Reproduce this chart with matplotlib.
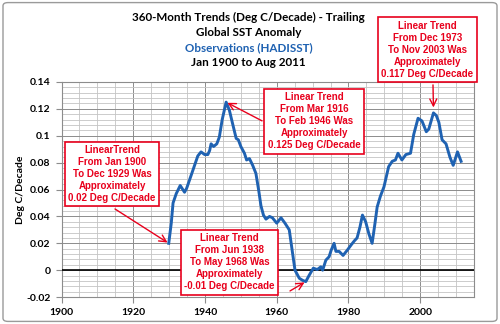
import matplotlib
matplotlib.use("Agg")
import matplotlib.pyplot as plt
from matplotlib.patches import FancyBboxPatch
from matplotlib.ticker import MultipleLocator

# trailing 360-month trend (year, deg C/decade)
years = [1929.9, 1930.6, 1931.1, 1932.0, 1933.1, 1934.3, 1934.9, 1936.2, 1937.1, 1938.0,
         1938.9, 1939.9, 1940.8, 1941.3, 1941.7, 1942.4, 1943.3, 1944.0, 1944.8, 1945.9,
         1946.8, 1947.7, 1948.7, 1949.3, 1950.0, 1951.0, 1951.6, 1952.4, 1953.3, 1954.2,
         1955.0, 1955.6, 1956.3, 1957.0, 1958.0, 1958.8, 1960.0, 1961.2, 1962.3, 1963.5,
         1964.4, 1965.1, 1966.3, 1967.2, 1968.1, 1969.0, 1970.2, 1971.3, 1972.3, 1972.8,
         1973.7, 1974.6, 1975.2, 1976.0, 1976.5, 1977.4, 1978.5, 1979.7, 1980.8, 1981.7,
         1982.4, 1983.2, 1983.9, 1984.8, 1985.7, 1986.6, 1987.4, 1988.0, 1988.9, 1989.9,
         1991.2, 1992.2, 1993.1, 1993.8, 1994.9, 1996.0, 1997.3, 1998.2, 1999.4, 2000.5,
         2001.7, 2002.4, 2003.7, 2004.5, 2005.2, 2006.1, 2007.2, 2008.3, 2009.2, 2010.4,
         2011.4]
trend = [0.020, 0.035, 0.050, 0.057, 0.063, 0.058, 0.061, 0.071, 0.078, 0.085,
         0.088, 0.086, 0.086, 0.089, 0.094, 0.092, 0.094, 0.099, 0.112, 0.125,
         0.119, 0.109, 0.098, 0.097, 0.092, 0.087, 0.082, 0.083, 0.078, 0.072,
         0.059, 0.048, 0.041, 0.038, 0.040, 0.039, 0.035, 0.039, 0.035, 0.030,
         0.013, 0.000, -0.006, -0.0075, -0.0085, -0.004, 0.0015, 0.0005, 0.0025, 0.000,
         0.0075, 0.010, 0.015, 0.020, 0.014, 0.014, 0.011, 0.015, 0.019, 0.022,
         0.024, 0.032, 0.041, 0.036, 0.027, 0.020, 0.035, 0.047, 0.055, 0.062,
         0.077, 0.081, 0.082, 0.087, 0.082, 0.086, 0.087, 0.101, 0.113, 0.111,
         0.103, 0.105, 0.117, 0.115, 0.110, 0.097, 0.094, 0.084, 0.078, 0.088,
         0.081]

title_lines = ["360-Month Trends (Deg C/Decade) - Trailing",
               "Global SST Anomaly",
               "Observations (HADISST)",
               "Jan 1900 to Aug 2011"]
notes = ["LinearTrend\nFrom Jan 1900\nTo Dec 1929 Was\nApproximately\n0.02 Deg C/Decade",
         "Linear Trend\nFrom Mar 1916\nTo Feb 1946 Was\nApproximately\n0.125 Deg C/Decade",
         "Linear Trend\nFrom Dec 1973\nTo Nov 2003 Was\nApproximately\n0.117 Deg C/Decade",
         "Linear Trend\nFrom Jun 1938\nTo May 1968 Was\nApproximately\n-0.01 Deg C/Decade"]

blue = "#1f62b2"
red = "#e8001c"

fig = plt.figure(figsize=(5.0, 3.24), dpi=100)
fig.patches.append(FancyBboxPatch((0.006, 0.008), 0.988, 0.984,
                                  boxstyle="round,pad=0,rounding_size=0.01",
                                  transform=fig.transFigure, fill=False,
                                  edgecolor="#9a9a9a", linewidth=1.0))
ax = fig.add_axes([0.123, 0.083, 0.825, 0.664])

ax.plot(years, trend, color=blue, linewidth=2.1, zorder=4)
ax.axhline(0, color="black", linewidth=1.2, zorder=3)

ax.set_xlim(1900, 2015)
ax.set_ylim(-0.02, 0.14)
ax.xaxis.set_major_locator(MultipleLocator(20))
ax.xaxis.set_minor_locator(MultipleLocator(5))
ax.yaxis.set_major_locator(MultipleLocator(0.02))
ax.yaxis.set_minor_locator(MultipleLocator(0.004))
ax.grid(which="major", color="#8c8c8c", linewidth=0.7)
ax.grid(which="minor", color="#c4c4c4", linewidth=0.6)
ax.set_axisbelow(True)
for s in ax.spines.values():
    s.set_color("#8c8c8c")
    s.set_linewidth(0.8)
ax.tick_params(which="minor", length=0)
ax.tick_params(which="major", length=4, color="#8c8c8c", labelsize=7.5, pad=4)
ax.set_yticks([-0.02, 0, 0.02, 0.04, 0.06, 0.08, 0.1, 0.12, 0.14])
ax.set_yticklabels(["-0.02", "0", "0.02", "0.04", "0.06", "0.08", "0.1", "0.12", "0.14"])
for lab in ax.get_xticklabels() + ax.get_yticklabels():
    lab.set_fontweight("bold")
    lab.set_family("Lato")
ax.set_ylabel("Deg C/Decade", fontsize=7.5, fontweight="bold", family="Lato", labelpad=1)

ys = [0.947, 0.899, 0.853, 0.806]
for i, line in enumerate(title_lines):
    fig.text(0.497, ys[i], line, ha="center", va="center", fontsize=8.4,
             fontweight="bold", family="Lato", color=blue if i == 2 else "black")

# annotation boxes
box_pos = [(0.224, 0.463), (0.628, 0.625), (0.855, 0.846), (0.459, 0.190)]
for txt, (bx, by) in zip(notes, box_pos):
    fig.text(bx, by, txt, ha="center", va="center", fontsize=7, fontweight="bold",
             family="Liberation Sans", color=red, linespacing=1.25, zorder=6,
             bbox=dict(boxstyle="square,pad=0.35", facecolor="white",
                       edgecolor=red, linewidth=1.2))

# arrows pointing at the curve
i_start = 0
i_max1 = trend.index(max(trend[:40]))
i_min = trend.index(min(trend))
i_max2 = trend.index(max(trend[60:]))
tips = [(years[i_start], trend[i_start]), (years[i_max1], trend[i_max1]),
        (years[i_max2], trend[i_max2] + 0.003), (years[i_min], trend[i_min])]
starts = [(0.23, 0.355), (0.524, 0.627), (0.866, 0.738), (0.58, 0.102)]
for (tx, ty), (sx, sy) in zip(tips, starts):
    ax.annotate("", xy=(tx, ty), xycoords="data", xytext=(sx, sy),
                textcoords="figure fraction", zorder=7,
                arrowprops=dict(arrowstyle="->,head_length=0.5,head_width=0.25",
                                color=red, linewidth=1.0, shrinkA=0, shrinkB=1))

fig.savefig("out.png", dpi=100)
